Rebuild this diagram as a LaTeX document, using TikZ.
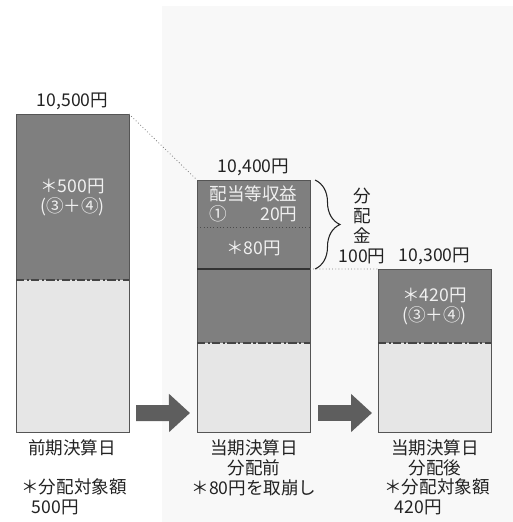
\documentclass[tikz,border=0pt]{standalone}
\usepackage{fontspec}
\setmainfont{Noto Sans CJK JP}
\usetikzlibrary{positioning,arrows.meta,decorations.pathreplacing}
\definecolor{barDark}{HTML}{7F7F7F}
\definecolor{barLight}{HTML}{E6E6E6}
\definecolor{edgeGray}{HTML}{555555}
\definecolor{arrowGray}{HTML}{5E5E5E}
\definecolor{panelGray}{HTML}{F8F8F8}
\definecolor{inkGray}{HTML}{222222}
\begin{document}
\begin{tikzpicture}[x=0.03cm, y=-0.03cm, font=\fontsize{15}{17}\selectfont, text=inkGray,
      upper/.style={fill=barDark, anchor=north west, inner sep=0pt, outer sep=0pt,
        minimum width=3.39cm, text=gray!12, align=center},
      lower/.style={upper, fill=barLight},
      edge/.style={draw=edgeGray, line width=0.7pt},
      sepdash/.style={draw=edgeGray!80!black, line width=1.2pt, dash pattern=on 7pt off 2pt on 2pt off 2pt},
      sepdot/.style={draw=black!70, line width=0.8pt, dotted},
      sepsolid/.style={draw=black!80, line width=1.1pt},
      guide/.style={draw=gray, line width=0.7pt, dotted},
      sumlabel/.style={inner sep=2pt},
      caption/.style={align=center, inner sep=1pt},
      note/.style={align=left, inner sep=1pt},
      bigarrow/.style={draw=arrowGray, line width=0.48cm, -{Triangle[length=0.63cm, width=1.11cm]}},
      bracestyle/.style={draw=inkGray, line width=0.9pt, decorate,
        decoration={brace, amplitude=0.75cm, aspect=0.5}}]
    \useasboundingbox (0,0) rectangle (513,522);
    \fill[panelGray] (162,6) rectangle (513,522);
    \node[upper, minimum height=4.98cm] (b1top) at (16,114) {＊500円\\(③＋④)};
    \node[lower, minimum height=4.56cm] (b1bot) at (16,280) {};
    \node[upper, minimum height=1.41cm] (b2inc) at (197,180) {配当等収益\\\makebox[5em]{①\hfill 20円}};
    \node[upper, minimum height=1.26cm] (b2draw) at (197,227) {＊80円};
    \node[upper, minimum height=2.22cm] (b2rest) at (197,269) {};
    \node[lower, minimum height=2.67cm] (b2bot) at (197,343) {};
    \node[upper, minimum height=2.22cm] (b3top) at (378,269) {＊420円\\(③＋④)};
    \node[lower, minimum height=2.67cm] (b3bot) at (378,343) {};
    \draw[edge] (b1top.north west) rectangle (b1bot.south east);
    \draw[edge] (b2inc.north west) rectangle (b2bot.south east);
    \draw[edge] (b3top.north west) rectangle (b3bot.south east);
    \draw[sepdash] (b1top.south west) -- (b1top.south east);
    \draw[sepdot] (b2inc.south west) -- (b2inc.south east);
    \draw[sepsolid] (b2draw.south west) -- (b2draw.south east);
    \draw[sepdash] (b2rest.south west) -- (b2rest.south east);
    \draw[sepdash] (b3top.south west) -- (b3top.south east);
    \node[sumlabel, above=1pt of b1top] (v1) {10,500円};
    \node[sumlabel, above=1pt of b2inc] (v2) {10,400円};
    \node[sumlabel, above=1pt of b3top] (v3) {10,300円};
    \draw[guide] (b1top.north east) -- (b2inc.north west);
    \draw[guide] (b2draw.south east) -- (b3top.north west);
    \draw[bracestyle] ([xshift=0.15cm]b2inc.north east) -- ([xshift=0.15cm]b2draw.south east);
    \node[caption] (dist) at (362,226) {分\\配\\金\\100円};
    \draw[bigarrow] ([shift={(7,-19)}]b1bot.south east) -- ([shift={(-7,-19)}]b2bot.south west);
    \draw[bigarrow] ([shift={(8,-19)}]b2bot.south east) -- ([shift={(-6,-19)}]b3bot.south west);
    \node[caption] (d1) at (72,448) {前期決算日};
    \node[note] (n1) at (74,497) {＊分配対象額\\\hspace{0.6em}500円};
    \node[caption] (d2) at (254,468) {当期決算日\\分配前\\＊80円を取崩し};
    \node[caption] (d3) at (435,458) {当期決算日\\分配後};
    \node[note] (n3) at (437,497) {＊分配対象額\\\hspace{0.6em}420円};
  \end{tikzpicture}
\end{document}
